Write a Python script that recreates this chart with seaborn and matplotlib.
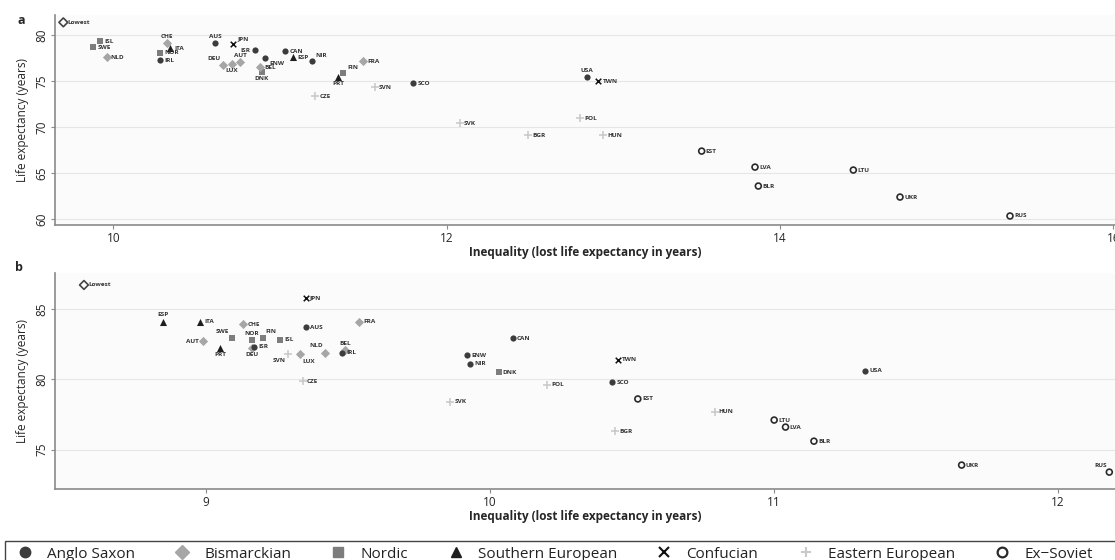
import pandas as pd
import matplotlib
matplotlib.use("Agg")
import matplotlib.pyplot as plt
from matplotlib.lines import Line2D
from matplotlib.patches import Rectangle
import seaborn as sns

# panel a
a_country = ["Lowest", "ISL", "SWE", "NLD", "CHE", "ITA", "NOR", "IRL", "AUS", "JPN",
             "ISR", "DEU", "LUX", "AUT", "CAN", "ESP", "ENW", "BEL", "DNK", "NIR",
             "FIN", "PRT", "CZE", "FRA", "SVN", "SCO", "SVK", "BGR", "USA", "TWN",
             "POL", "HUN", "EST", "LVA", "BLR", "LTU", "UKR", "RUS"]
a_group = ["Lowest", "Nordic", "Nordic", "Bismarckian", "Bismarckian", "Southern European",
           "Nordic", "Anglo Saxon", "Anglo Saxon", "Confucian",
           "Anglo Saxon", "Bismarckian", "Bismarckian", "Bismarckian", "Anglo Saxon",
           "Southern European", "Anglo Saxon", "Bismarckian", "Nordic", "Anglo Saxon",
           "Nordic", "Southern European", "Eastern European", "Bismarckian", "Eastern European",
           "Anglo Saxon", "Eastern European", "Eastern European", "Anglo Saxon", "Confucian",
           "Eastern European", "Eastern European", "Ex-Soviet", "Ex-Soviet", "Ex-Soviet",
           "Ex-Soviet", "Ex-Soviet", "Ex-Soviet"]
a_ineq = [9.70, 9.92, 9.88, 9.96, 10.32, 10.34, 10.28, 10.28, 10.61, 10.72,
          10.85, 10.66, 10.71, 10.76, 11.03, 11.08, 10.91, 10.88, 10.89, 11.19,
          11.38, 11.35, 11.21, 11.50, 11.57, 11.80, 12.08, 12.49, 12.84, 12.91,
          12.80, 12.94, 13.53, 13.85, 13.87, 14.44, 14.72, 15.38]
a_life = [81.4, 79.35, 78.7, 77.6, 79.1, 78.6, 78.1, 77.3, 79.1, 79.0,
          78.37, 76.74, 76.85, 77.07, 78.26, 77.6, 77.5, 76.52, 75.98, 77.17,
          75.87, 75.43, 73.37, 77.17, 74.35, 74.78, 70.43, 69.13, 75.43, 75.0,
          70.98, 69.13, 67.39, 65.65, 63.59, 65.33, 62.39, 60.33]

# panel b
b_country = ["Lowest", "JPN", "ESP", "ITA", "CHE", "AUS", "FRA", "SWE", "AUT", "NOR",
             "FIN", "ISL", "PRT", "ISR", "DEU", "SVN", "LUX", "NLD", "BEL", "IRL",
             "CZE", "CAN", "ENW", "NIR", "DNK", "TWN", "POL", "SCO", "SVK", "EST",
             "HUN", "BGR", "USA", "LTU", "LVA", "BLR", "UKR", "RUS"]
b_group = ["Lowest", "Confucian", "Southern European", "Southern European", "Bismarckian",
           "Anglo Saxon", "Bismarckian", "Nordic", "Bismarckian", "Nordic",
           "Nordic", "Nordic", "Southern European", "Anglo Saxon", "Bismarckian",
           "Eastern European", "Bismarckian", "Bismarckian", "Bismarckian", "Anglo Saxon",
           "Eastern European", "Anglo Saxon", "Anglo Saxon", "Anglo Saxon", "Nordic",
           "Confucian", "Eastern European", "Anglo Saxon", "Eastern European", "Ex-Soviet",
           "Eastern European", "Eastern European", "Anglo Saxon", "Ex-Soviet", "Ex-Soviet",
           "Ex-Soviet", "Ex-Soviet", "Ex-Soviet"]
b_ineq = [8.57, 9.35, 8.85, 8.98, 9.13, 9.35, 9.54, 9.09, 8.99, 9.16,
          9.20, 9.26, 9.05, 9.17, 9.16, 9.29, 9.33, 9.42, 9.49, 9.48,
          9.34, 10.08, 9.92, 9.93, 10.03, 10.45, 10.20, 10.43, 9.86, 10.52,
          10.79, 10.44, 11.32, 11.00, 11.04, 11.14, 11.66, 12.18]
b_life = [86.7, 85.8, 84.1, 84.1, 83.9, 83.7, 84.1, 82.9, 82.7, 82.8,
          82.9, 82.8, 82.25, 82.3, 82.2, 81.8, 81.76, 81.9, 82.1, 81.9,
          79.86, 82.9, 81.7, 81.1, 80.5, 81.4, 79.6, 79.8, 78.4, 78.6,
          77.7, 76.3, 80.6, 77.1, 76.6, 75.6, 73.9, 73.4]

legend_groups = ["Anglo Saxon", "Bismarckian", "Nordic", "Southern European",
                 "Confucian", "Eastern European", "Ex-Soviet"]

# marker, face, edge, size
styles = {
    "Anglo Saxon": ("o", "#3c3c3c", "#3c3c3c", 20),
    "Bismarckian": ("D", "#a6a6a6", "#a6a6a6", 22),
    "Nordic": ("s", "#7d7d7d", "#7d7d7d", 20),
    "Southern European": ("^", "#1e1e1e", "#1e1e1e", 26),
    "Confucian": ("x", "#111111", "#111111", 16),
    "Eastern European": ("+", "#c8c8c8", "#c8c8c8", 26),
    "Ex-Soviet": ("o", "none", "#2a2a2a", 18),
    "Lowest": ("D", "none", "#444444", 20),
}

# label placement (clock position), default 3 o'clock
pos_a = {"CHE": 12, "AUS": 12, "ISR": 9, "DEU": 11, "LUX": 6, "AUT": 12, "ENW": 4,
         "DNK": 6, "NIR": 2, "FIN": 2, "PRT": 6, "USA": 12, "JPN": 2}
pos_b = {"ESP": 12, "SWE": 11, "AUT": 9, "NOR": 12, "FIN": 1, "PRT": 6, "DEU": 6,
         "SVN": 7, "LUX": 5, "NLD": 11, "BEL": 12, "RUS": 11}
offsets = {3: (3, 0, "left", "center"), 12: (0, 3, "center", "bottom"),
           6: (0, -3, "center", "top"), 9: (-3, 0, "right", "center"),
           10: (-3, 2, "right", "bottom"), 11: (-2, 3, "right", "bottom"),
           1: (2, 3, "left", "bottom"), 2: (3, 2, "left", "bottom"),
           4: (3, -2, "left", "top"), 5: (2, -3, "left", "top"),
           7: (-2, -3, "right", "top")}

sns.set_style("white")
plt.rcParams["font.family"] = ["Open Sans", "DejaVu Sans"]

fig = plt.figure(figsize=(11.15, 5.6), dpi=100)
ax_a = fig.add_axes([55 / 1115, 1 - 225 / 560, 1060 / 1115, 210 / 560])
ax_b = fig.add_axes([55 / 1115, 1 - 489 / 560, 1060 / 1115, 216 / 560])


def draw(ax, country, group, ineq, life, pos):
    df = pd.DataFrame({"country": country, "group": group, "ineq": ineq, "life": life})
    ax.set_facecolor("#fbfbfb")
    for g, sub in df.groupby("group", sort=False):
        m, fc, ec, s = styles[g]
        lw = 1.2 if fc == "none" else (1.1 if m in ("x", "+") else 0)
        if m in ("x", "+"):
            sns.scatterplot(data=sub, x="ineq", y="life", marker=m, color=ec, s=s,
                            linewidth=lw, ax=ax, legend=False, zorder=3)
        else:
            sns.scatterplot(data=sub, x="ineq", y="life", marker=m, facecolor=fc,
                            edgecolor=ec, s=s, linewidth=lw, ax=ax, legend=False, zorder=3)
    for _, r in df.iterrows():
        dx, dy, ha, va = offsets[pos.get(r["country"], 3)]
        ax.annotate(r["country"], (r["ineq"], r["life"]), xytext=(dx, dy),
                    textcoords="offset points", ha=ha, va=va, fontsize=4.6,
                    fontweight="bold", color="#333333", zorder=4)
    ax.grid(axis="y", color="#e6e6e6", linewidth=0.8)
    ax.grid(axis="x", visible=False)
    for side in ("top", "right"):
        ax.spines[side].set_visible(False)
    for side in ("left", "bottom"):
        ax.spines[side].set_color("#8a8a8a")
        ax.spines[side].set_linewidth(1.2)
    ax.tick_params(axis="both", length=3, width=0.8, color="#8a8a8a", labelsize=8.5,
                   pad=2, bottom=True, left=True)
    ax.set_xlabel("Inequality (lost life expectancy in years)", fontsize=8.5,
                  fontweight="bold", labelpad=1)
    ax.set_ylabel("Life expectancy (years)", fontsize=8.5, labelpad=4)


draw(ax_a, a_country, a_group, a_ineq, a_life, pos_a)
ax_a.set_xlim(9.65, 16.01)
ax_a.set_ylim(59.35, 82.2)
ax_a.set_xticks([10, 12, 14, 16])
ax_a.set_yticks([60, 65, 70, 75, 80])
for t in ax_a.get_yticklabels():
    t.set_rotation(90)
    t.set_va("center")

draw(ax_b, b_country, b_group, b_ineq, b_life, pos_b)
ax_b.set_xlim(8.468, 12.2)
ax_b.set_ylim(72.2, 87.55)
ax_b.set_xticks([9, 10, 11, 12])
ax_b.set_yticks([75, 80, 85])
for t in ax_b.get_yticklabels():
    t.set_rotation(90)
    t.set_va("center")

fig.text(18 / 1115, 1 - 20 / 560, "a", fontsize=9, fontweight="bold", va="center")
fig.text(15 / 1115, 1 - 267 / 560, "b", fontsize=9, fontweight="bold", va="center")

# legend
fig.patches.append(Rectangle((5 / 1115, -0.02), 1.1, 1 - 541 / 560 + 0.02,
                             transform=fig.transFigure, facecolor="white",
                             edgecolor="#444444", linewidth=1.0))
handles = []
for g in legend_groups:
    m, fc, ec, s = styles[g]
    if m in ("x", "+"):
        h = Line2D([], [], marker=m, linestyle="", color=ec, markersize=7, markeredgewidth=1.5)
    elif fc == "none":
        h = Line2D([], [], marker=m, linestyle="", markerfacecolor="none",
                   markeredgecolor=ec, markersize=7, markeredgewidth=1.6)
    else:
        h = Line2D([], [], marker=m, linestyle="", markerfacecolor=fc,
                   markeredgecolor=ec, markersize=7.5)
    handles.append(h)
fig.legend(handles, ["Ex\u2212Soviet" if g == "Ex-Soviet" else g for g in legend_groups],
           loc="center left", bbox_to_anchor=(10 / 1115, 1 - 554 / 560), ncol=7,
           frameon=False, fontsize=11, handletextpad=0.9, columnspacing=2.55,
           handlelength=1.1, borderaxespad=0, labelcolor="#222222")

fig.savefig("out.png", dpi=100)
